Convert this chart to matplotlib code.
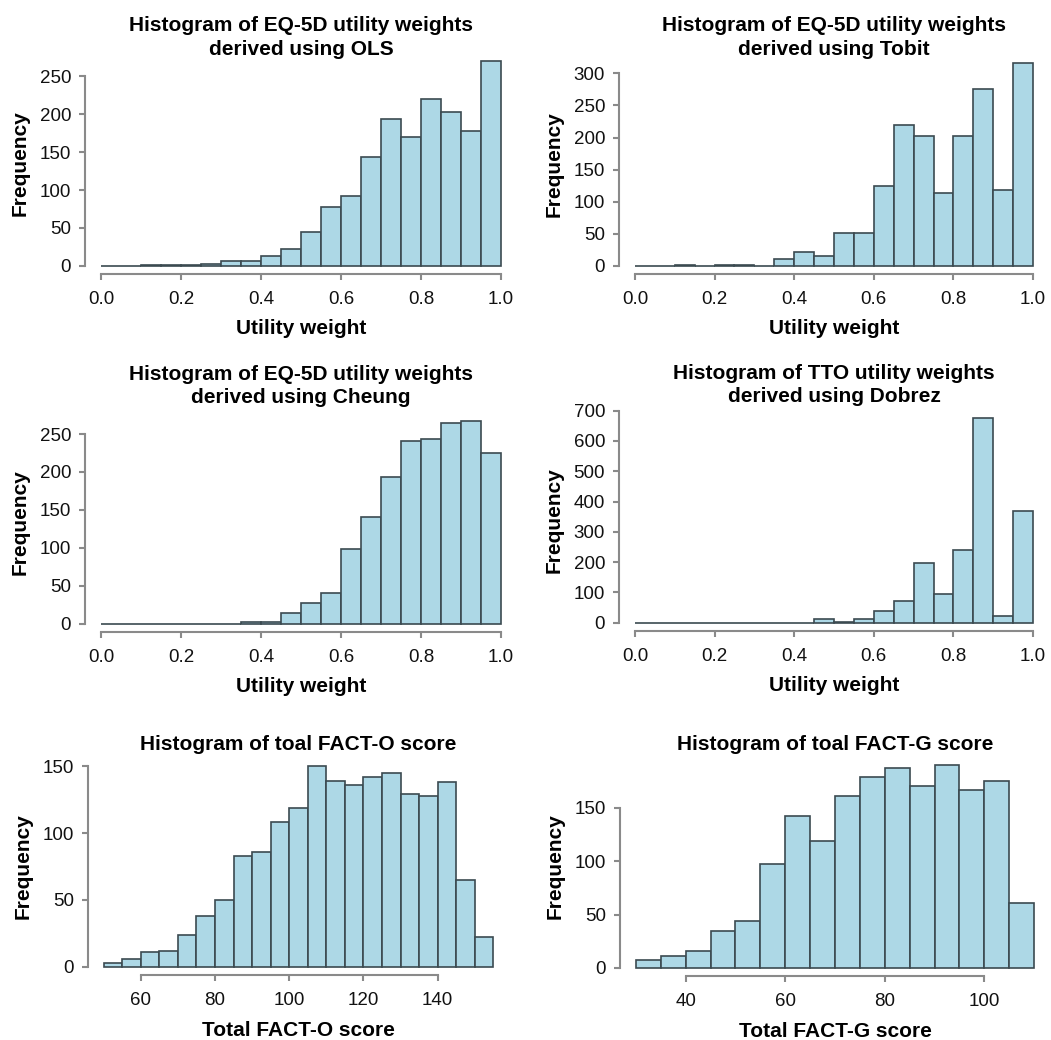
import numpy as np
import matplotlib
matplotlib.use('Agg')
from matplotlib import pyplot as plt

plt.rcParams['font.family'] = ['Liberation Sans', 'DejaVu Sans']

# bin edges
util_edges = np.arange(0, 1.0001, 0.05)
facto_edges = np.arange(50, 155.001, 5)
factg_edges = np.arange(30, 110.001, 5)

# counts
ols_counts = [0, 0, 1, 1, 1, 3, 6, 7, 13, 22, 45, 78, 92, 144, 194, 170, 220, 203, 178, 270]
tobit_counts = [0, 0, 1, 0, 1, 2, 0, 10, 21, 16, 51, 51, 125, 220, 202, 113, 202, 276, 119, 316]
cheung_counts = [0, 0, 0, 0, 0, 0, 0, 2, 2, 14, 28, 41, 99, 141, 194, 241, 244, 264, 267, 225]
dobrez_counts = [0, 0, 0, 0, 0, 0, 0, 0, 0, 12, 3, 12, 38, 71, 198, 95, 240, 675, 24, 368]
facto_counts = [3, 6, 11, 12, 24, 38, 50, 83, 86, 108, 119, 150, 139, 136, 142, 145, 129, 128, 138, 65, 22]
factg_counts = [7, 11, 16, 35, 44, 97, 142, 119, 161, 179, 187, 170, 190, 167, 175, 61]

titles = ['Histogram of EQ-5D utility weights\nderived using OLS',
          'Histogram of EQ-5D utility weights\nderived using Tobit',
          'Histogram of EQ-5D utility weights\nderived using Cheung',
          'Histogram of TTO utility weights\nderived using Dobrez',
          'Histogram of toal FACT-O score',
          'Histogram of toal FACT-G score']
xlabels = ['Utility weight'] * 4 + ['Total FACT-O score', 'Total FACT-G score']
util_ticks = [0.0, 0.2, 0.4, 0.6, 0.8, 1.0]
xticks = [util_ticks] * 4 + [[60, 80, 100, 120, 140], [40, 60, 80, 100]]
yticks = [[0, 50, 100, 150, 200, 250],
          [0, 50, 100, 150, 200, 250, 300],
          [0, 50, 100, 150, 200, 250],
          [0, 100, 200, 300, 400, 500, 600, 700],
          [0, 50, 100, 150],
          [0, 50, 100, 150]]
edges = [util_edges] * 4 + [facto_edges, factg_edges]
counts = [ols_counts, tobit_counts, cheung_counts, dobrez_counts, facto_counts, factg_counts]

W, H = 1051, 1040
# axes boxes in pixels: left, right, top, bottom
boxes = [(85, 517, 53, 274), (619, 1049, 55, 274),
         (85, 517, 413, 632), (619, 1049, 410, 631),
         (88, 509, 758, 975), (620, 1050, 757, 976)]
# title bottom relative to the axes top, in points
title_offsets = [-4.0, -2.6, 4.3, 2.6, 2.9, 2.2]
xlabel_pads = [8, 8, 8, 8, 9, 9]

fig = plt.figure(figsize=(W / 100, H / 100), dpi=100)
grey = '#8a8a8a'
for i in range(6):
    l, r, t, b = boxes[i]
    ax = fig.add_axes([l / W, 1 - b / H, (r - l) / W, (b - t) / H])
    e = edges[i]
    c = np.array(counts[i])
    ax.bar(e[:-1], c, width=np.diff(e), align='edge', color='#add8e6',
           edgecolor='#3b4a50', linewidth=1.2)
    xr = e[-1] - e[0]
    ax.set_xlim(e[0] - 0.04 * xr, e[-1] + 0.04 * xr)
    ax.set_ylim(-0.04 * c.max(), 1.04 * c.max())
    for s in ['top', 'right']:
        ax.spines[s].set_visible(False)
    ax.spines['left'].set_bounds(yticks[i][0], yticks[i][-1])
    ax.spines['bottom'].set_bounds(xticks[i][0], xticks[i][-1])
    for s in ['left', 'bottom']:
        ax.spines[s].set_color(grey)
        ax.spines[s].set_linewidth(1.5)
    ax.set_xticks(xticks[i])
    if i < 4:
        ax.set_xticklabels(['%.1f' % v for v in xticks[i]])
    ax.set_yticks(yticks[i])
    ax.tick_params(axis='both', colors=grey, labelcolor='#111111', labelsize=13.5,
                   length=4, width=1.5)
    ax.tick_params(axis='x', pad=8)
    ax.tick_params(axis='y', pad=6)
    ax.set_xlabel(xlabels[i], fontsize=15, fontweight='bold', labelpad=xlabel_pads[i])
    ax.set_ylabel('Frequency', fontsize=15, fontweight='bold', labelpad=7)
    ax.annotate(titles[i], xy=(0.5, 1.0), xycoords='axes fraction',
                xytext=(0, title_offsets[i]), textcoords='offset points',
                ha='center', va='bottom', fontsize=15, fontweight='bold',
                linespacing=1.3, annotation_clip=False)

plt.savefig('out.png', dpi=100)
